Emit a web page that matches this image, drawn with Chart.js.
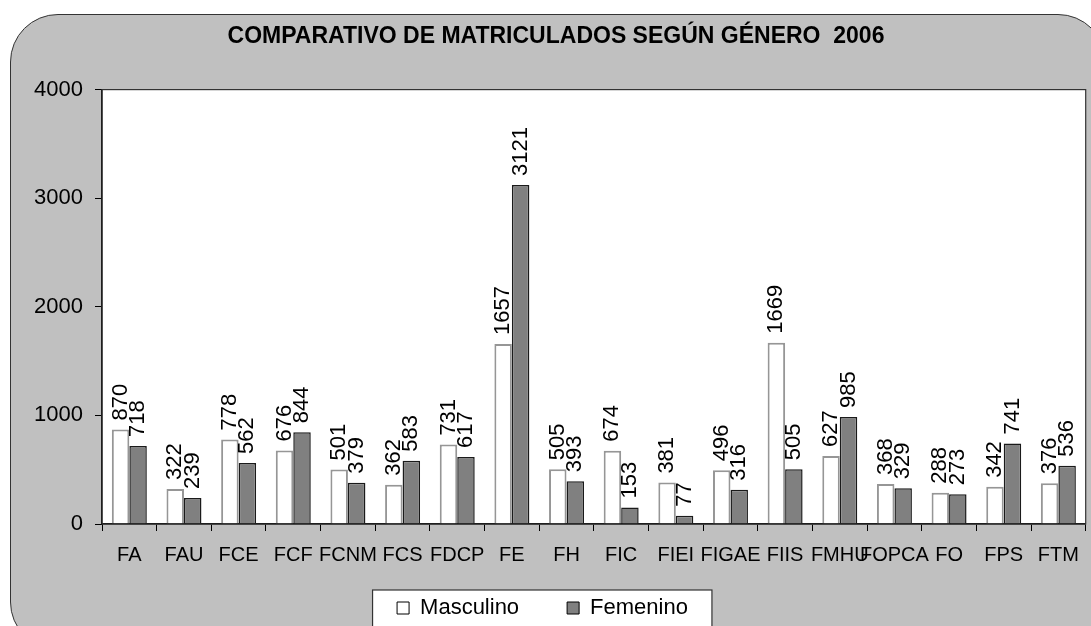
<!DOCTYPE html>
<html lang="es">
<head>
  <meta charset="UTF-8">
  <title>Comparativo de matriculados según género 2006</title>
  <script src="https://cdn.jsdelivr.net/npm/chart.js"></script>
  <style>
    body { margin: 0; background: #fff; }
    #wrap { position: relative; width: 1091px; height: 626px; overflow: hidden; }
    #panel {
      position: absolute; left: 10px; top: 14px;
      width: 1094px; height: 634px;
      background: #c0c0c0; border: 1.5px solid #333; border-radius: 48px;
    }
    #chart { position: absolute; left: 0; top: 0; }
  </style>
</head>
<body>
<div id="wrap">
  <div id="panel"></div>
  <canvas id="chart" width="1091" height="626"></canvas>
</div>

<script>
  const facultades = ['FA', 'FAU', 'FCE', 'FCF', 'FCNM', 'FCS', 'FDCP', 'FE', 'FH', 'FIC',
    'FIEI', 'FIGAE', 'FIIS', 'FMHU', 'FOPCA', 'FO', 'FPS', 'FTM'];
  const masculino = [870, 322, 778, 676, 501, 362, 731, 1657, 505, 674, 381, 496, 1669, 627, 368, 288, 342, 376];
  const femenino = [718, 239, 562, 844, 379, 583, 617, 3121, 393, 153, 77, 316, 505, 985, 329, 273, 741, 536];

  const FONT = 'Arial, "Liberation Sans", sans-serif';

  // white plot area with a frame, plus the white legend box
  const frame = {
    id: 'frame',
    afterLayout(chart) {
      // nudge the legend up/left so it sits where the original one does
      const lg = chart.legend;
      lg.left -= 13.5;
      lg.right -= 13.5;
      lg.top -= 20;
      lg.bottom -= 20;
    },
    beforeDraw(chart) {
      const { ctx, chartArea: a, legend } = chart;
      ctx.save();
      ctx.fillStyle = '#fff';
      ctx.fillRect(a.left, a.top, a.right - a.left, a.bottom - a.top);

      const boxes = legend.legendHitBoxes;
      const first = boxes[0];
      const last = boxes[boxes.length - 1];
      const x0 = first.left - 24.5;
      const x1 = last.left + last.width + 24;
      const y0 = legend.top + legend.options.labels.padding - 7;
      ctx.fillRect(x0, y0, x1 - x0, 60);
      ctx.strokeStyle = '#333';
      ctx.lineWidth = 1.2;
      ctx.strokeRect(x0, y0, x1 - x0, 60);
      ctx.restore();
    },
    afterDraw(chart) {
      const { ctx, chartArea: a } = chart;
      ctx.save();
      ctx.strokeStyle = '#333';
      ctx.lineWidth = 1.2;
      ctx.strokeRect(a.left, a.top, a.right - a.left, a.bottom - a.top);
      ctx.restore();
    }
  };

  // values written upright above each bar
  const barValues = {
    id: 'barValues',
    afterDatasetsDraw(chart) {
      const ctx = chart.ctx;
      ctx.save();
      ctx.font = '22px ' + FONT;
      ctx.fillStyle = '#000';
      ctx.textAlign = 'left';
      ctx.textBaseline = 'middle';
      chart.data.datasets.forEach((ds, i) => {
        chart.getDatasetMeta(i).data.forEach((bar, j) => {
          ctx.save();
          ctx.translate(bar.x, bar.y - 9);
          ctx.rotate(-Math.PI / 2);
          ctx.fillText(ds.data[j], 0, 0);
          ctx.restore();
        });
      });
      ctx.restore();
    }
  };

  new Chart(document.getElementById('chart'), {
    type: 'bar',
    data: {
      labels: facultades,
      datasets: [
        {
          label: 'Masculino',
          data: masculino,
          backgroundColor: '#ffffff',
          borderColor: '#969696',
          borderWidth: 2
        },
        {
          label: 'Femenino',
          data: femenino,
          backgroundColor: '#808080',
          borderColor: '#1a1a1a',
          borderWidth: 1.5
        }
      ]
    },
    options: {
      responsive: false,
      animation: false,
      layout: { padding: { left: 24, right: 3, top: 0, bottom: -23 } },
      datasets: {
        bar: { categoryPercentage: 0.64, barPercentage: 1 }
      },
      scales: {
        x: {
          grid: { offset: true, drawOnChartArea: false, tickLength: 7, color: '#000' },
          border: { color: '#000', width: 1.5 },
          ticks: {
            color: '#000', font: { family: FONT, size: 20 },
            autoSkip: false, maxRotation: 0, minRotation: 0, padding: 12
          },
          afterFit(scale) { scale.height = 45; }
        },
        y: {
          min: 0, max: 4000,
          grid: { drawOnChartArea: false, tickLength: 7, color: '#000' },
          border: { color: '#000', width: 1.5 },
          ticks: {
            stepSize: 1000, color: '#000', font: { family: FONT, size: 22 }, padding: 12,
            callback: v => String(v)
          },
          afterFit(scale) { scale.width = 78; }
        }
      },
      plugins: {
        title: {
          display: true,
          text: 'COMPARATIVO DE MATRICULADOS SEGÚN GÉNERO  2006',
          color: '#000',
          font: { family: FONT, size: 23, weight: 'bold' },
          padding: { top: 23, bottom: 39 }
        },
        legend: {
          position: 'bottom',
          labels: {
            color: '#000',
            font: { family: FONT, size: 22 },
            boxWidth: 12,
            boxHeight: 12,
            padding: 48,
            generateLabels: chart => chart.data.datasets.map((ds, i) => ({
              text: ds.label,
              fillStyle: ds.backgroundColor,
              strokeStyle: '#000',
              lineWidth: 1,
              fontColor: '#000',
              hidden: false,
              datasetIndex: i
            }))
          }
        },
        tooltip: { enabled: false }
      }
    },
    plugins: [frame, barValues]
  });
</script>
</body>
</html>
